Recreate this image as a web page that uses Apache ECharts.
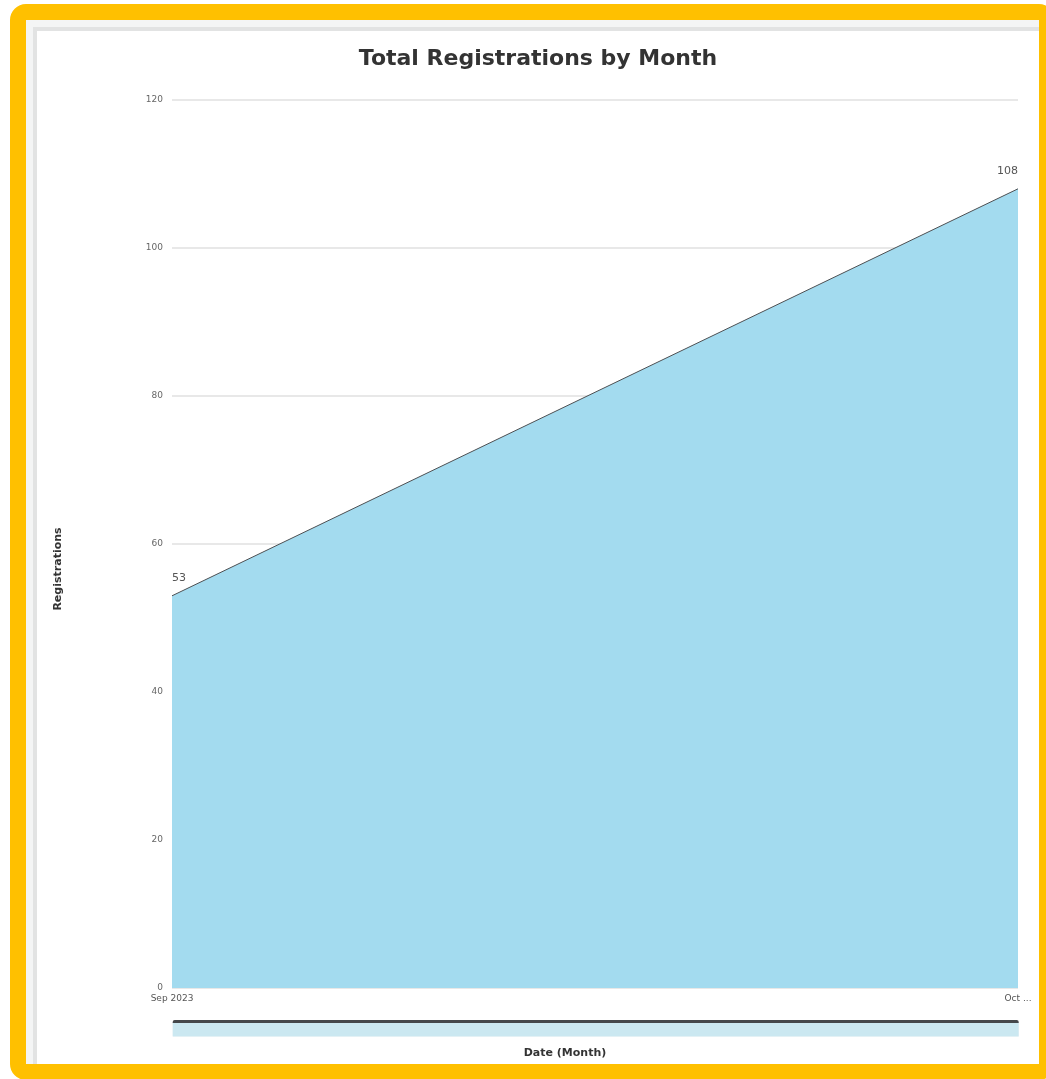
<!DOCTYPE html>
<html>
<head>
<meta charset="utf-8">
<script src="https://cdn.jsdelivr.net/npm/echarts@6/dist/echarts.min.js"></script>
<style>
  html, body { margin: 0; padding: 0; width: 1046px; height: 1079px; overflow: hidden; background: #ffffff; }
  #frame { position: absolute; left: 10px; top: 4px; width: 1013px; height: 1044px; border: 16px solid #FFC000; border-radius: 16px; background: #f4f5f5; }
  #inner { position: absolute; left: 7px; top: 7px; right: 0; bottom: 0; border-left: 4px solid #e2e3e3; border-top: 4px solid #e2e3e3; background: #ffffff; }
  #chart { position: absolute; left: 37px; top: 31px; width: 1002px; height: 1033px; }
</style>
</head>
<body>
<div id="frame"><div id="inner"></div></div>
<div id="chart"></div>
<script>
const categories = ['Sep 2023', 'Oct 2023'];
const registrations = [53, 108];
const yTicks = { min: 0, max: 120, interval: 20 };

const chart = echarts.init(document.getElementById('chart'), null, { renderer: 'canvas' });
const lastIdx = categories.length - 1;
const seriesData = registrations.map((v, i) => ({
  value: v,
  label: { align: i === 0 ? 'left' : (i === lastIdx ? 'right' : 'center') }
}));

chart.setOption({
  animation: false,
  backgroundColor: 'transparent',
  title: {
    text: 'Total Registrations by Month',
    left: 'center',
    top: 12,
    textStyle: { fontFamily: 'DejaVu Sans', fontWeight: 'bold', fontSize: 22, color: '#333333' }
  },
  grid: { left: 135, right: 21, top: 69, bottom: 76, containLabel: false },
  xAxis: {
    type: 'category',
    data: categories,
    boundaryGap: false,
    name: 'Date (Month)',
    nameLocation: 'middle',
    nameGap: 60,
    nameTextStyle: { fontFamily: 'DejaVu Sans', fontWeight: 'bold', fontSize: 11, color: '#333333', padding: [0, 60, 0, 0] },
    axisLine: { show: false },
    axisTick: { show: false },
    axisLabel: {
      fontFamily: 'DejaVu Sans', fontSize: 9, color: '#555555', margin: 6,
      formatter: (v, i) => i === lastIdx ? v.slice(0, 3) + ' ...' : v
    }
  },
  yAxis: {
    type: 'value',
    min: yTicks.min, max: yTicks.max, interval: yTicks.interval,
    name: 'Registrations',
    nameLocation: 'middle',
    nameGap: 108,
    nameRotate: 90,
    nameTextStyle: { fontFamily: 'DejaVu Sans', fontWeight: 'bold', fontSize: 11, color: '#333333', padding: [0, 0, 0, -50] },
    axisLine: { show: false },
    axisTick: { show: false },
    axisLabel: { fontFamily: 'DejaVu Sans', fontSize: 9, color: '#666666', margin: 9 },
    splitLine: { lineStyle: { color: '#e8e8e8', width: 2 } }
  },
  dataZoom: [{
    type: 'slider',
    xAxisIndex: 0,
    start: 0, end: 100,
    left: 135, right: 21,
    bottom: 30, height: 14,
    backgroundColor: '#f3f4f4',
    borderColor: 'transparent',
    fillerColor: 'rgba(164,219,238,0.5)',
    showDataShadow: false,
    showDetail: false,
    handleSize: 0,
    handleStyle: { opacity: 0 },
    brushSelect: true,
    moveHandleSize: 3,
    moveHandleIcon: 'none',
    moveHandleStyle: { color: '#45484b', opacity: 1 },
    emphasis: { moveHandleStyle: { color: '#45484b', opacity: 1 }, handleStyle: { opacity: 0 } }
  }],
  series: [{
    type: 'line',
    data: seriesData,
    showSymbol: true,
    symbol: 'circle',
    symbolSize: 0,
    lineStyle: { color: '#4d4f52', width: 1 },
    areaStyle: { color: '#a3dbef', opacity: 1 },
    label: {
      show: true, position: 'top', distance: 12,
      fontFamily: 'DejaVu Sans', fontSize: 11, color: '#555555'
    }
  }]
});
</script>
</body>
</html>
